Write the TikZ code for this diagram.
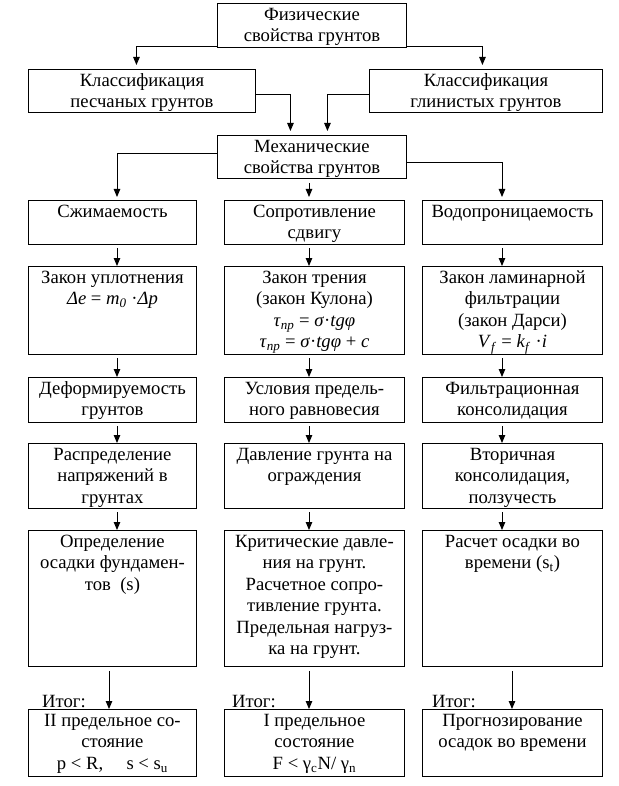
\documentclass[tikz,border=0pt]{standalone}
\usepackage{fontspec}
\setmainfont{Liberation Serif}
\usetikzlibrary{arrows.meta}
\newcommand\bt[3]{\parbox[c][#2pt][t]{#1pt}{\centering\rule{0pt}{17pt}#3}}
\begin{document}
\begin{tikzpicture}[x=1pt,y=-1pt,
  every node/.style={font=\fontsize{18.67pt}{21.5pt}\selectfont},
  bx/.style={draw, line width=0.9pt, inner sep=0pt, anchor=north west},
  arr/.style={-{Triangle[length=8pt,width=6.5pt]}, line width=0.9pt},
  lbl/.style={inner sep=0pt, anchor=base west}]
\useasboundingbox (0,0) rectangle (618,786);
\fill[white] (0,0) rectangle (618,786);
% top part
\node[bx] (phys) at (217,3) {\bt{189}{44}{Физические\\свойства грунтов}};
\node[bx] (klsand) at (28,69) {\bt{227}{43}{Классификация\\песчаных грунтов}};
\node[bx] (klclay) at (369,69) {\bt{233}{43}{Классификация\\глинистых грунтов}};
\node[bx] (mech) at (217,135) {\bt{189}{43}{Механические\\свойства грунтов}};
% row 1
\node[bx] (L1) at (28,200) {\bt{168}{44}{Сжимаемость}};
\node[bx] (M1) at (224,200) {\bt{180}{44}{Сопротивление\\сдвигу}};
\node[bx] (R1) at (422,200) {\bt{180}{44}{Водопроницаемость}};
% row 2
\node[bx] (L2) at (28,266) {\bt{168}{88}{Закон уплотнения\\\textit{Δe} = \textit{m}\textsubscript{\textit{0}} ·\textit{Δp}}};
\node[bx] (M2) at (224,266) {\bt{180}{88}{Закон трения\\(закон Кулона)\\\textit{τ}\textsubscript{\textit{пр}} = \textit{σ}·\textit{tgφ}\\\textit{τ}\textsubscript{\textit{пр}} = \textit{σ}·\textit{tgφ} + \textit{c}}};
\node[bx] (R2) at (422,266) {\bt{180}{88}{Закон ламинарной\\фильтрации\\(закон Дарси)\\\textit{V}\textsubscript{\textit{f}} = \textit{k}\textsubscript{\textit{f}} ·\textit{i}}};
% row 3
\node[bx] (L3) at (28,377) {\bt{168}{45}{Деформируемость\\грунтов}};
\node[bx] (M3) at (224,377) {\bt{180}{45}{Условия предель-\\ного равновесия}};
\node[bx] (R3) at (422,377) {\bt{180}{45}{Фильтрационная\\консолидация}};
% row 4
\node[bx] (L4) at (28,443) {\bt{168}{65}{Распределение\\напряжений в\\грунтах}};
\node[bx] (M4) at (224,443) {\bt{180}{65}{Давление грунта на\\ограждения}};
\node[bx] (R4) at (422,443) {\bt{180}{65}{Вторичная\\консолидация,\\ползучесть}};
% row 5
\node[bx] (L5) at (28,530) {\bt{168}{136}{Определение\\осадки фундамен-\\тов~~(s)}};
\node[bx] (M5) at (224,530) {\bt{180}{136}{Критические давле-\\ния на грунт.\\Расчетное сопро-\\тивление грунта.\\Предельная нагруз-\\ка на грунт.}};
\node[bx] (R5) at (422,530) {\bt{180}{136}{Расчет осадки во\\времени (s\textsubscript{t})}};
% row 6
\node[bx] (L6) at (28,709) {\bt{168}{67}{II предельное со-\\стояние\\p < R,\quad\ s < s\textsubscript{u}}};
\node[bx] (M6) at (224,709) {\bt{180}{67}{I предельное\\состояние\\F < γ\textsubscript{c}N/ γ\textsubscript{n}}};
\node[bx] (R6) at (422,709) {\bt{180}{67}{Прогнозирование\\осадок во времени}};
% labels
\node[lbl] (itL) at (42,707) {Итог:};
\node[lbl] (itM) at (232,707) {Итог:};
\node[lbl] (itR) at (432,707) {Итог:};
% coordinates
\coordinate (xL) at (117,0);
\coordinate (xM) at (309,0);
\coordinate (xR) at (502,0);
\coordinate (fL) at (109,0);
\coordinate (fR) at (512,0);
% connectors top
\draw[arr, shorten >=4pt] ([yshift=1pt]phys.south west) -| ([xshift=-5.5pt]klsand.north);
\draw[arr, shorten >=4pt] ([yshift=1pt]phys.south east) -| ([xshift=-3.5pt]klclay.north);
\draw[arr, shorten >=4pt] ([yshift=-3.5pt]klsand.east) -| ([xshift=-21.5pt]mech.north);
\draw[arr, shorten >=4pt] ([yshift=-3.5pt]klclay.west) -| ([xshift=15.5pt]mech.north);
\draw[arr, shorten >=3pt] ([yshift=3.5pt]mech.west) -| (L1.north -| xL);
\draw[arr, shorten <=4pt, shorten >=3pt] (mech.south -| xM) -- (M1.north -| xM);
\draw[arr, shorten >=3pt] ([yshift=-5.5pt]mech.east) -| (R1.north -| xR);
% column connectors
\foreach \c in {L,M,R}{
  \foreach \r/\s in {1/2,2/3,3/4,4/5}{
    \draw[arr, shorten <=3.5pt] (\c\r.south -| x\c) -- (\c\s.north -| x\c);
  }
}
\draw[arr, shorten <=4pt] (L5.south -| fL) -- (L6.north -| fL);
\draw[arr, shorten <=4pt] (M5.south -| xM) -- (M6.north -| xM);
\draw[arr, shorten <=4pt] (R5.south -| fR) -- (R6.north -| fR);
\end{tikzpicture}
\end{document}
